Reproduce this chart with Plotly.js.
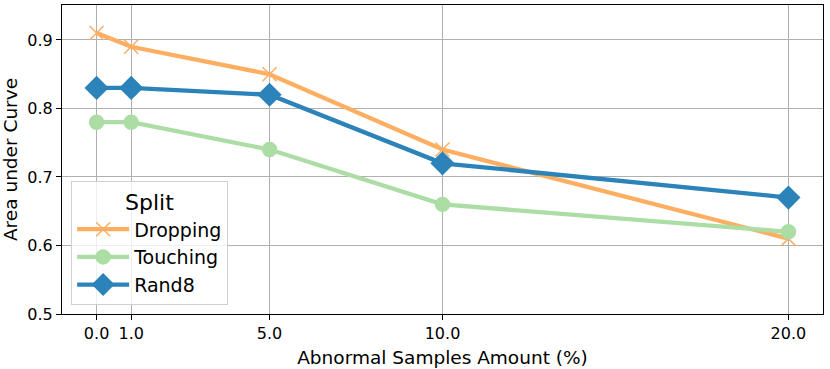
<!DOCTYPE html>
<html>
<head>
<meta charset="utf-8">
<script src="https://cdn.plot.ly/plotly-3.0.1.min.js"></script>
<style>
  html, body { margin: 0; padding: 0; background: #fff; }
  #chart { width: 830px; height: 369px; }
</style>
</head>
<body>
<div id="chart"></div>
<script>
// abnormal samples amount (%) on x
const amounts = [0, 1, 5, 10, 20];
const tickLabels = ['0.0', '1.0', '5.0', '10.0', '20.0'];

const dropping = [0.91, 0.89, 0.85, 0.74, 0.61];
const touching = [0.78, 0.78, 0.74, 0.66, 0.62];
const rand8 = [0.83, 0.83, 0.82, 0.72, 0.67];

function makeTrace(name, y, color, symbol, size) {
    return {
        x: amounts,
        y: y,
        name: name,
        type: 'scatter',
        mode: 'lines+markers',
        line: { color: color, width: 4.3 },
        marker: { color: color, symbol: symbol, size: size, line: { color: color, width: 1.5 } }
    };
}

const traces = [
    makeTrace('Dropping', dropping, '#fdae61', 'x-thin-open', 14),
    makeTrace('Touching', touching, '#abdda4', 'circle', 14),
    makeTrace('Rand8', rand8, '#2b83ba', 'diamond', 17)
];

const layout = {
    width: 830,
    height: 369,
    margin: { l: 62, r: 7, t: 5, b: 55 },
    paper_bgcolor: '#fff',
    plot_bgcolor: '#fff',
    font: { family: 'DejaVu Sans', color: '#000', size: 16 },
    showlegend: true,
    legend: {
        x: 0.012, y: 0.03, xanchor: 'left', yanchor: 'bottom',
        bgcolor: 'rgba(255,255,255,0.8)',
        bordercolor: '#d0d0d0', borderwidth: 1,
        font: { size: 19 },
        itemwidth: 52,
        title: { text: 'Split', font: { size: 22 }, side: 'top center' },
        tracegroupgap: 0
    },
    xaxis: {
        range: [-1, 21],
        tickvals: amounts,
        ticktext: tickLabels,
        showgrid: true, gridcolor: '#b0b0b0', gridwidth: 1,
        zeroline: false,
        showline: true, linecolor: '#000', linewidth: 1, mirror: true,
        ticks: 'outside', ticklen: 5, tickcolor: '#000',
        tickfont: { size: 16 },
        title: { text: 'Abnormal Samples Amount (%)', font: { size: 18.5 }, standoff: 8 }
    },
    yaxis: {
        range: [0.5, 0.951],
        tickvals: [0.5, 0.6, 0.7, 0.8, 0.9],
        ticktext: ['0.5', '0.6', '0.7', '0.8', '0.9'],
        showgrid: true, gridcolor: '#b0b0b0', gridwidth: 1,
        zeroline: false,
        showline: true, linecolor: '#000', linewidth: 1, mirror: true,
        ticks: 'outside', ticklen: 5, tickcolor: '#000',
        tickfont: { size: 16 },
        title: { text: 'Area under Curve', font: { size: 18.5 }, standoff: 6 }
    }
};

Plotly.newPlot('chart', traces, layout, { displayModeBar: false });
</script>
</body>
</html>
